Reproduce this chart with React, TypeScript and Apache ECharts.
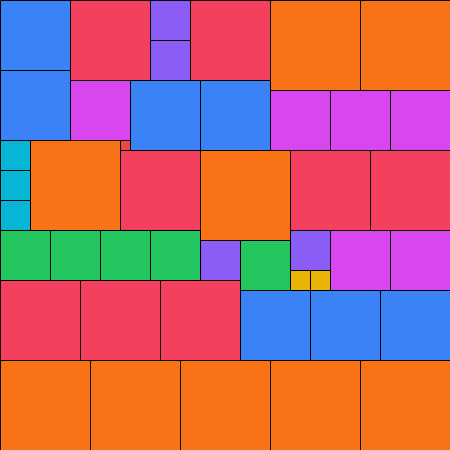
import React, { useEffect, useRef } from "react";
import * as echarts from "echarts";

// Square packing: top-left corner (x, y) and side length of each square
const xs = [0, 0, 70, 150, 150, 190, 270, 360, 70, 130, 200, 270, 330, 390, 0, 0, 0, 30, 120, 120, 200, 290, 370, 0, 50, 100, 150, 200, 240, 290, 290, 310, 330, 390, 0, 80, 160, 240, 310, 380, 0, 90, 180, 270, 360];
const ys = [0, 70, 0, 0, 40, 0, 0, 0, 80, 80, 80, 90, 90, 90, 140, 170, 200, 140, 140, 150, 150, 150, 150, 230, 230, 230, 230, 240, 240, 230, 270, 270, 230, 230, 280, 280, 280, 290, 290, 290, 360, 360, 360, 360, 360];
const sizes = [70, 70, 80, 40, 40, 80, 90, 90, 60, 70, 70, 60, 60, 60, 30, 30, 30, 90, 10, 80, 90, 80, 80, 50, 50, 50, 50, 40, 50, 40, 20, 20, 60, 60, 80, 80, 80, 70, 70, 70, 90, 90, 90, 90, 90];

const sizeKeys = [10, 20, 30, 40, 50, 60, 70, 80, 90];
const sizeColors = ["#ef4444", "#eab308", "#06b6d4", "#8b5cf6", "#22c55e", "#d946ef", "#3b82f6", "#f43f5e", "#f97316"];

export default function App() {
  const ref = useRef<HTMLDivElement>(null);
  useEffect(() => {
    document.body.style.margin = "0";
    const chart = echarts.init(ref.current!, null, { renderer: "svg" });
    const data = xs.map((x, i) => [x, ys[i], sizes[i]]);
    chart.setOption({
      animation: false,
      grid: { left: 0, right: 0, top: 0, bottom: 0 },
      xAxis: { type: "value", min: 0, max: 450, show: false },
      yAxis: { type: "value", min: 0, max: 450, inverse: true, show: false },
      series: [
        {
          type: "custom",
          data,
          renderItem: (params: any, api: any) => {
            const x = api.value(0);
            const y = api.value(1);
            const s = api.value(2);
            const p = api.coord([x, y]);
            const sz = api.size([s, s]);
            const color = sizeColors[sizeKeys.indexOf(s)];
            return {
              type: "rect",
              shape: { x: p[0] + 0.5, y: p[1] + 0.5, width: sz[0], height: sz[1] },
              style: { fill: color, stroke: "#000000", lineWidth: 1 },
            };
          },
        },
      ],
    });
    return () => chart.dispose();
  }, []);
  return <div ref={ref} style={{ width: 450, height: 450 }} />;
}
